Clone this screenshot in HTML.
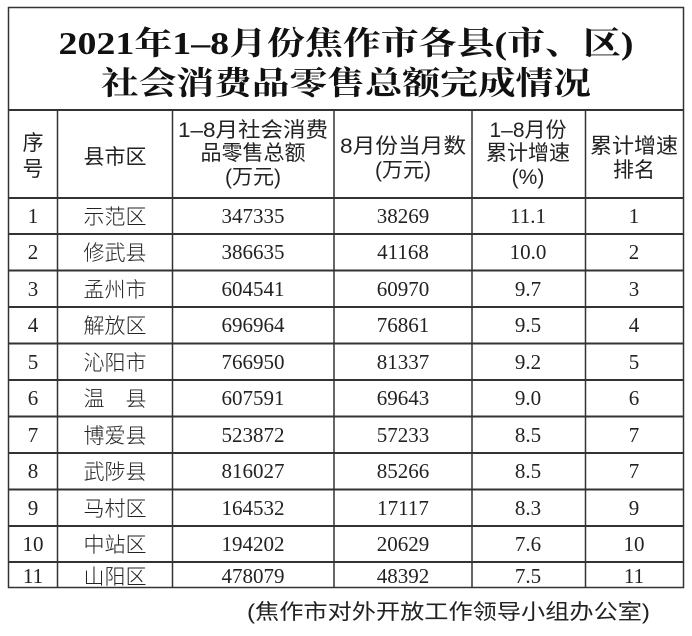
<!DOCTYPE html>
<html><head><meta charset="utf-8"><style>
html,body{margin:0;padding:0;background:#fff;width:692px;height:636px;overflow:hidden}
svg text{fill:#222}
.t{font-family:"Liberation Serif","Noto Serif CJK SC",serif;font-weight:bold;font-size:32px;fill:#111}
.h{font-family:"Liberation Sans","Noto Sans CJK SC",sans-serif;font-size:21px;fill:#222}
.n{font-family:"Liberation Serif",serif;font-size:21px;fill:#333}
.c{font-family:"Liberation Sans","Noto Sans CJK SC",sans-serif;font-size:21px;font-weight:300;fill:#444}
</style></head><body>
<svg width="692" height="636" viewBox="0 0 692 636" xmlns="http://www.w3.org/2000/svg">
<g stroke="#333" fill="none">
<rect x="8.5" y="7.5" width="675" height="580" stroke-width="1.5"/>
<line x1="8" y1="110" x2="684" y2="110" stroke-width="2"/>
<line x1="8" y1="198" x2="684" y2="198" stroke-width="2"/>
<line x1="8" y1="234" x2="684" y2="234" stroke-width="2"/>
<line x1="8" y1="270.5" x2="684" y2="270.5" stroke-width="2"/>
<line x1="8" y1="307" x2="684" y2="307" stroke-width="2"/>
<line x1="8" y1="343.5" x2="684" y2="343.5" stroke-width="2"/>
<line x1="8" y1="380" x2="684" y2="380" stroke-width="2"/>
<line x1="8" y1="416.5" x2="684" y2="416.5" stroke-width="2"/>
<line x1="8" y1="453" x2="684" y2="453" stroke-width="2"/>
<line x1="8" y1="489.5" x2="684" y2="489.5" stroke-width="2"/>
<line x1="8" y1="526" x2="684" y2="526" stroke-width="2"/>
<line x1="8" y1="562" x2="684" y2="562" stroke-width="2"/>
<g stroke-width="1.5">
<line x1="57.5" y1="110" x2="57.5" y2="588"/>
<line x1="172.5" y1="110" x2="172.5" y2="588"/>
<line x1="334" y1="110" x2="334" y2="588"/>
<line x1="472" y1="110" x2="472" y2="588"/>
<line x1="585.5" y1="110" x2="585.5" y2="588"/>
</g>
</g>
<text class="t" x="346" y="54" text-anchor="middle" textLength="575" lengthAdjust="spacingAndGlyphs">2021年1–8月份焦作市各县(市、区)</text>
<text class="t" x="346" y="94" text-anchor="middle" textLength="490" lengthAdjust="spacingAndGlyphs">社会消费品零售总额完成情况</text>
<g class="h" text-anchor="middle">
<text x="33" y="150">序</text><text x="33" y="176">号</text>
<text x="115" y="164">县市区</text>
<text x="253" y="137" textLength="150" lengthAdjust="spacingAndGlyphs">1–8月社会消费</text><text x="253" y="160">品零售总额</text><text x="253" y="184">(万元)</text>
<text x="403" y="153" textLength="126" lengthAdjust="spacingAndGlyphs">8月份当月数</text><text x="403" y="177">(万元)</text>
<text x="528" y="137">1–8月份</text><text x="528" y="160">累计增速</text><text x="528" y="184">(%)</text>
<text x="634" y="153" textLength="88" lengthAdjust="spacingAndGlyphs">累计增速</text><text x="634" y="177">排名</text>
</g>
<g text-anchor="middle">
<g class="n">
<text x="33" y="223">1</text><text x="253" y="223">347335</text><text x="403" y="223">38269</text><text x="528" y="223">11.1</text><text x="634" y="223">1</text>
<text x="33" y="259">2</text><text x="253" y="259">386635</text><text x="403" y="259">41168</text><text x="528" y="259">10.0</text><text x="634" y="259">2</text>
<text x="33" y="296">3</text><text x="253" y="296">604541</text><text x="403" y="296">60970</text><text x="528" y="296">9.7</text><text x="634" y="296">3</text>
<text x="33" y="332">4</text><text x="253" y="332">696964</text><text x="403" y="332">76861</text><text x="528" y="332">9.5</text><text x="634" y="332">4</text>
<text x="33" y="369">5</text><text x="253" y="369">766950</text><text x="403" y="369">81337</text><text x="528" y="369">9.2</text><text x="634" y="369">5</text>
<text x="33" y="405">6</text><text x="253" y="405">607591</text><text x="403" y="405">69643</text><text x="528" y="405">9.0</text><text x="634" y="405">6</text>
<text x="33" y="442">7</text><text x="253" y="442">523872</text><text x="403" y="442">57233</text><text x="528" y="442">8.5</text><text x="634" y="442">7</text>
<text x="33" y="478">8</text><text x="253" y="478">816027</text><text x="403" y="478">85266</text><text x="528" y="478">8.5</text><text x="634" y="478">7</text>
<text x="33" y="515">9</text><text x="253" y="515">164532</text><text x="403" y="515">17117</text><text x="528" y="515">8.3</text><text x="634" y="515">9</text>
<text x="33" y="551">10</text><text x="253" y="551">194202</text><text x="403" y="551">20629</text><text x="528" y="551">7.6</text><text x="634" y="551">10</text>
<text x="33" y="583">11</text><text x="253" y="583">478079</text><text x="403" y="583">48392</text><text x="528" y="583">7.5</text><text x="634" y="583">11</text>
</g>
<g class="c">
<text x="115" y="224">示范区</text>
<text x="115" y="260">修武县</text>
<text x="115" y="297">孟州市</text>
<text x="115" y="333">解放区</text>
<text x="115" y="370">沁阳市</text>
<text x="115" y="406">温　县</text>
<text x="115" y="443">博爱县</text>
<text x="115" y="479">武陟县</text>
<text x="115" y="516">马村区</text>
<text x="115" y="552">中站区</text>
<text x="115" y="584">山阳区</text>
</g>
</g>
<text class="h" x="650" y="619" text-anchor="end" textLength="403" lengthAdjust="spacingAndGlyphs">(焦作市对外开放工作领导小组办公室)</text>
</svg>
</body></html>
